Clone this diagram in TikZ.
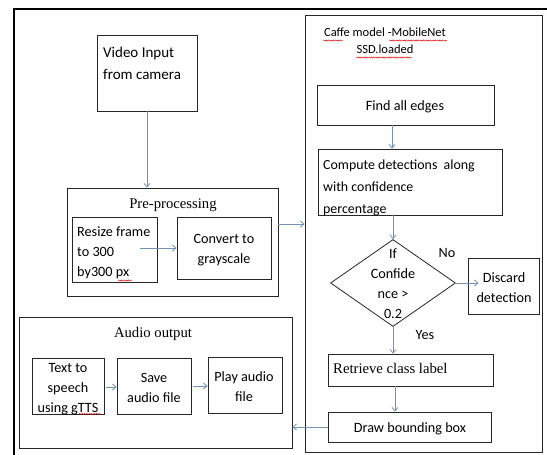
\documentclass[tikz,border=0pt]{standalone}
\usepackage{fontspec}
\setmainfont{Carlito}
\newfontfamily\titleface{Liberation Serif}
\usetikzlibrary{arrows.meta,shapes.geometric,decorations.pathmorphing}

\definecolor{arrowblue}{HTML}{7392B8}
\definecolor{boxline}{HTML}{262626}

% stacked lines; the first row carries the baseline
\newcommand{\linesof}[2]{\begin{tabular}[t]{@{}#1@{}}#2\end{tabular}}

\begin{document}
\begin{tikzpicture}[x=1pt,y=-1pt,
  box/.style={draw=boxline, line width=0.8pt, inner sep=0pt},
  flow/.style={draw=arrowblue, line width=0.8pt, -{Straight Barb[length=3.5pt,width=6pt]}},
  txtA/.style={inner sep=0pt, font=\fontsize{15}{22}\selectfont},
  txtD/.style={inner sep=0pt, font=\fontsize{13.9}{22}\selectfont},
  txtB/.style={inner sep=0pt, font=\fontsize{14.2}{20}\selectfont},
  txtC/.style={inner sep=0pt, font=\fontsize{12.5}{17}\selectfont},
  heading/.style={inner sep=0pt, font=\titleface\fontsize{14.7}{18}\selectfont},
  spell/.style={draw=red!85!black, line width=0.45pt, decorate,
    decoration={snake, amplitude=0.6pt, segment length=2.4pt}}]
\useasboundingbox (0,0) rectangle (547,455);
\fill[white] (0,0) rectangle (547,455);

% outer frame (left and top edges)
\draw[line width=1.8pt, black] (14,455) -- (14,9) -- (547,9);

% ---------------- left column ----------------
\node[box, minimum width=100pt, minimum height=76pt] (vid) at (147,73) {};
\node[txtA, anchor=base west] (vidtxt) at (103,57) {\linesof{l}{Video Input\\from camera}};

\node[box, minimum width=211pt, minimum height=108pt] (pre) at (172.5,242) {};
\node[heading, anchor=base] (pretxt) at (173,208) {Pre-processing};

\node[box, minimum width=85pt, minimum height=65pt] (resize) at (114.5,249.5) {};
\node[txtB, anchor=base west] (resizetxt) at (77,236) {\linesof{l}{Resize frame\\to 300\\by300 px}};

\node[box, minimum width=94pt, minimum height=62pt] (gray) at (224,248) {};
\node[txtB, anchor=base] (graytxt) at (224,243) {\linesof{c}{Convert to\\grayscale}};

\node[box, minimum width=273pt, minimum height=131pt] (audio) at (155.5,382.5) {};
\node[heading, anchor=base] (audiotxt) at (153,337) {Audio output};

\node[box, minimum width=72pt, minimum height=56pt] (tts) at (68,386) {};
\node[txtB, anchor=base] (ttstxt) at (68,372) {\linesof{c}{Text to\\speech\\using gTTS}};

\node[box, minimum width=74pt, minimum height=56pt] (save) at (154,386) {};
\node[txtB, anchor=base] (savetxt) at (154,382) {\linesof{c}{Save\\audio file}};

\node[box, minimum width=74pt, minimum height=56pt] (play) at (245,385) {};
\node[txtB, anchor=base] (playtxt) at (244,381) {\linesof{c}{Play audio\\file}};

% ---------------- right column ----------------
\node[box, minimum width=237pt, minimum height=437pt] (model) at (423.5,233.5) {};
\node[txtC, anchor=base] (modeltxt) at (385,37) {\linesof{c}{Caffe model -MobileNet\\SSD.loaded}};

\node[box, minimum width=177pt, minimum height=40pt] (edges) at (405.5,105) {};
\node[txtB, anchor=base] (edgestxt) at (405,110) {Find all edges};

\node[box, minimum width=184pt, minimum height=66pt] (comp) at (410,182) {};
\node[txtD, anchor=base west] (comptxt) at (323,169) {\linesof{l}{Compute detections\ \ along\\with confidence\\percentage}};

\node[box, diamond, minimum width=125pt, minimum height=87pt] (dia) at (393,283) {};
\node[txtB, anchor=base] (diatxt) at (393,258) {\linesof{c}{If\\Confide\\nce >\\0.2}};

\node[box, minimum width=71pt, minimum height=56pt] (discard) at (503.5,286) {};
\node[txtB, anchor=base] (discardtxt) at (504,282) {\linesof{c}{Discard\\detection}};

\node[txtB, anchor=base] (notxt) at (447,257) {No};
\node[txtB, anchor=base] (yestxt) at (425,339) {Yes};

\node[box, minimum width=165pt, minimum height=32pt] (retr) at (410.5,370) {};
\node[heading, anchor=base west] (retrtxt) at (333,373) {Retrieve class label};

\node[box, minimum width=163pt, minimum height=30pt] (bbox) at (409.5,427) {};
\node[txtB, anchor=base] (bboxtxt) at (410,432) {Draw bounding box};

% ---------------- connectors ----------------
\draw[flow] (vid.south) -- (vid.south |- pre.north);
\draw[flow] ([xshift=-17pt]resize.east |- gray.west) -- (gray.west);
\draw[flow] ([yshift=18pt]pre.east) -- ([yshift=18pt]pre.east -| model.west);
\draw[flow] ([xshift=-13.5pt]edges.south) -- ([xshift=-13.5pt]edges.south |- comp.north);
\draw[flow] (comp.south -| dia.north) -- (dia.north);
\draw[flow] (dia.east) -- ([xshift=11pt]dia.east -| discard.west);
\draw[flow] (dia.south) -- (dia.south |- retr.north);
\draw[flow] ([xshift=-15.5pt]retr.south) -- ([xshift=-15.5pt]retr.south |- bbox.north);
\draw[flow] (bbox.west) -- (bbox.west -| audio.east);
\draw[flow] ([xshift=2pt,yshift=-1pt]tts.east) -- ([yshift=-1pt]save.west);
\draw[flow] ([xshift=2pt]save.east) -- (save.east -| play.west);

% spell-check underlines
\draw[spell] (323,40.5) -- (343,40.5);
\draw[spell] (389,40.5) -- (447,40.5);
\draw[spell] (356,57.5) -- (412,57.5);
\draw[spell] (118,280.5) -- (132,280.5);
\draw[spell] (79,414) -- (101,414);
\end{tikzpicture}
\end{document}
